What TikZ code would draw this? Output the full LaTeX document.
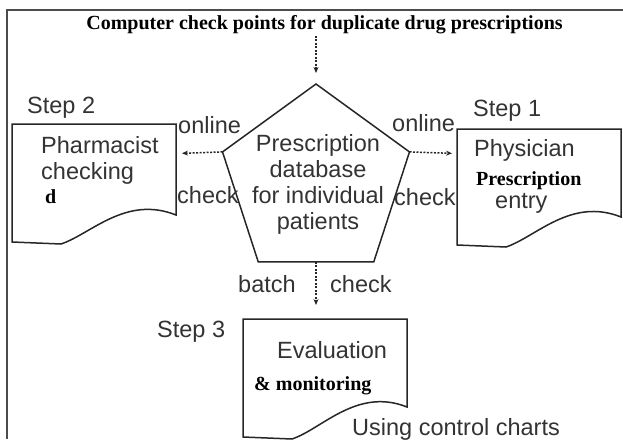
\documentclass[tikz,border=0pt]{standalone}
\usepackage{fontspec}
\setmainfont{Liberation Sans}
\newfontfamily\timesfont{Liberation Serif}
\usepackage{tikz}
\usepackage{xcolor}
\usetikzlibrary{arrows.meta,shapes.geometric}
\newcommand{\sanstxt}{\fontsize{23.5}{26}\selectfont}
\newcommand{\sertxt}{\timesfont\bfseries\fontsize{20}{24}\selectfont}
% document symbol: x1, top, x2, right bottom, left bottom
\newcommand{\docshape}[5]{%
  \draw[docline] (#1,#2) -- (#3,#2) -- (#3,#4)
    .. controls (#3-50,#4-20) and (#3-85,#5-8) .. (#3-115,#5+2)
    -- (#1,#5) -- cycle;}
\colorlet{line_dark}{black!85}
\colorlet{frame_gray}{black!70}
\colorlet{txt_gray}{black!80}
\tikzset{
    flow/.style={-{Stealth[length=6pt,width=5pt]},dash pattern=on 2pt off 1.5pt,line width=1.5pt,line_dark},
    docline/.style={line width=1.5pt,line_dark},
    lbl/.style={anchor=base west,inner sep=0pt,font=\sanstxt,text=txt_gray},
    serlbl/.style={anchor=base west,inner sep=0pt,font=\sertxt,text=black},
}

\begin{document}
\begin{tikzpicture}[x=1pt,y=-1pt]
  \useasboundingbox (0,0) rectangle (623,439);
  \draw[frame_gray,line width=2pt] (7,439) -- (7,10) -- (623,10);
  \node[anchor=base,inner sep=0pt,font=\sertxt] (title) at (324.5,29)
    {Computer check points for duplicate drug prescriptions};
  % database
  \node[regular polygon,regular polygon sides=5,minimum size=196.6pt,
        inner sep=0pt,outer sep=0pt,draw,docline] (db) at (316,182.3) {};
  \node[align=center,inner sep=0pt,font=\sanstxt,text=txt_gray] (dbtext) at (318,184)
    {Prescription\\database\\for individual\\patients};
  % documents
  \docshape{12}{124}{176}{215}{242}
  \docshape{457}{129}{621}{217}{245}
  \docshape{243}{319}{407}{407}{437}
  \coordinate (pharmE) at (176,153.5);
  \coordinate (physW) at (457,153.5);
  \coordinate (evalN) at (316,319);
  % step 2
  \node[lbl] (step2) at (27,113) {Step 2};
  \node[lbl] (pharm) at (41,153) {Pharmacist};
  \node[lbl] (checking) at (41,179) {checking};
  \node[serlbl] (pharmd) at (45,203) {d};
  % step 1
  \node[lbl] (step1) at (473,116) {Step 1};
  \node[lbl] (phys) at (474,156) {Physician};
  \node[serlbl] (physpres) at (476,185) {Prescription};
  \node[lbl] (physentry) at (495,208) {entry};
  % step 3
  \node[lbl] (step3) at (157,337) {Step 3};
  \node[lbl] (eval) at (277,358) {Evaluation};
  \node[serlbl] (evalmon) at (254,390) {\& monitoring};
  \node[lbl] (charts) at (352,435) {Using control charts};
  % arrow labels
  \node[lbl] (onlineL) at (178,133) {online};
  \node[lbl] (checkL) at (177,203) {check};
  \node[lbl] (onlineR) at (392,131) {online};
  \node[lbl] (checkR) at (394,205) {check};
  \node[lbl] (batch) at (238,292) {batch};
  \node[lbl] (checkB) at (330,292) {check};
  % arrows
  \draw[flow,shorten <=2pt,shorten >=11pt] (title.south -| db.corner 1) -- (db.corner 1);
  \draw[flow,shorten >=6pt] (db.corner 2) -- (pharmE);
  \draw[flow,shorten >=5pt] (db.corner 5) -- (physW);
  \draw[flow,shorten >=14pt] (db.side 3) -- (evalN);
\end{tikzpicture}
\end{document}
